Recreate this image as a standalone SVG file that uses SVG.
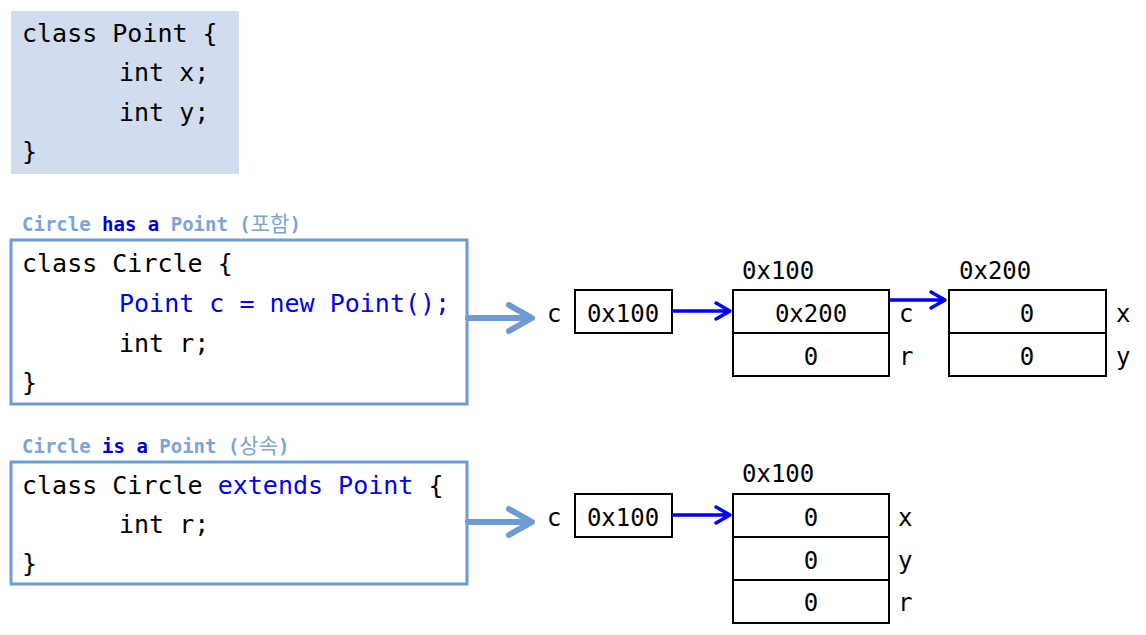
<svg xmlns="http://www.w3.org/2000/svg" width="1146" height="635" viewBox="0 0 1146 635">
  <style>
    .code { font-family: "DejaVu Sans Mono", "Liberation Mono", monospace; font-size: 25px; fill: #000; }
    .kw { fill: #0000EE; }
    .mem { font-family: "DejaVu Sans Mono", "Liberation Mono", monospace; font-size: 24px; fill: #000; }
    .mid { text-anchor: middle; }
    .cap { font-family: "DejaVu Sans Mono", "Liberation Mono", "Noto Sans CJK KR", monospace; font-size: 19px; font-weight: bold; fill: #7BA4D8; }
    .cap .dark { fill: #0000CC; }
    .cap .ko { font-family: "Noto Sans CJK KR", sans-serif; font-weight: normal; font-size: 21px; }
    .codebox { fill: #fff; stroke: #6E9BD3; stroke-width: 3; }
    .cell { fill: #fff; stroke: #000; stroke-width: 2; }
    .fat { fill: none; stroke: #6E9BD3; stroke-width: 6; stroke-linecap: round; stroke-linejoin: round; }
    .ptr { fill: none; stroke: #0000FF; stroke-width: 3.5; stroke-linecap: round; stroke-linejoin: round; }
  </style>

  <!-- class Point -->
  <g id="point-class">
    <rect x="11" y="11" width="228" height="163" fill="#D1DDEE"/>
    <text class="code" x="22" y="42">class Point {</text>
    <text class="code" x="119" y="81">int x;</text>
    <text class="code" x="119" y="121">int y;</text>
    <text class="code" x="22" y="160">}</text>
  </g>

  <!-- composition: Circle has a Point -->
  <g id="circle-has">
    <text class="cap" x="22" y="231">Circle <tspan class="dark">has a</tspan> Point (<tspan class="ko">포함</tspan>)</text>
    <rect class="codebox" x="11" y="240" width="456" height="164"/>
    <text class="code" x="22" y="272">class Circle {</text>
    <text class="code kw" x="119" y="312">Point c = new Point();</text>
    <text class="code" x="119" y="352">int r;</text>
    <text class="code" x="22" y="391">}</text>
  </g>

  <!-- inheritance: Circle is a Point -->
  <g id="circle-is">
    <text class="cap" x="22" y="453">Circle <tspan class="dark">is a</tspan> Point (<tspan class="ko">상속</tspan>)</text>
    <rect class="codebox" x="11" y="462" width="456" height="122"/>
    <text class="code" x="22" y="494">class Circle <tspan class="kw">extends Point</tspan> {</text>
    <text class="code" x="119" y="533">int r;</text>
    <text class="code" x="22" y="572">}</text>
  </g>

  <!-- memory: reference c (has-a) -->
  <g id="ref-c-top">
    <text class="mem" x="547" y="322">c</text>
    <rect class="cell" x="575" y="290" width="97" height="43"/>
    <text class="mem mid" x="623" y="322">0x100</text>
  </g>

  <!-- memory: Circle object at 0x100 -->
  <g id="obj-circle-top">
    <text class="mem" x="742" y="279">0x100</text>
    <rect class="cell" x="733" y="290" width="156" height="43"/>
    <rect class="cell" x="733" y="333" width="156" height="43"/>
    <text class="mem mid" x="811" y="322">0x200</text>
    <text class="mem mid" x="811" y="365">0</text>
    <text class="mem" x="899" y="322">c</text>
    <text class="mem" x="899" y="365">r</text>
  </g>

  <!-- memory: Point object at 0x200 -->
  <g id="obj-point">
    <text class="mem" x="959" y="279">0x200</text>
    <rect class="cell" x="949" y="290" width="157" height="43"/>
    <rect class="cell" x="949" y="333" width="157" height="43"/>
    <text class="mem mid" x="1027" y="322">0</text>
    <text class="mem mid" x="1027" y="365">0</text>
    <text class="mem" x="1116" y="322">x</text>
    <text class="mem" x="1116" y="365">y</text>
  </g>

  <!-- memory: reference c (is-a) -->
  <g id="ref-c-bottom">
    <text class="mem" x="547" y="526">c</text>
    <rect class="cell" x="575" y="494" width="97" height="43"/>
    <text class="mem mid" x="623" y="526">0x100</text>
  </g>

  <!-- memory: Circle object (inherits x, y) -->
  <g id="obj-circle-bottom">
    <text class="mem" x="742" y="482">0x100</text>
    <rect class="cell" x="733" y="494" width="156" height="43"/>
    <rect class="cell" x="733" y="537" width="156" height="43"/>
    <rect class="cell" x="733" y="580" width="156" height="43"/>
    <text class="mem mid" x="811" y="526">0</text>
    <text class="mem mid" x="811" y="569">0</text>
    <text class="mem mid" x="811" y="611">0</text>
    <text class="mem" x="898" y="526">x</text>
    <text class="mem" x="898" y="569">y</text>
    <text class="mem" x="898" y="611">r</text>
  </g>

  <!-- connectors -->
  <g id="connectors">
    <path class="fat" d="M 468 318 H 531 M 509 305 L 532 318 L 509 331"/>
    <path class="fat" d="M 468 522 H 531 M 509 509 L 532 522 L 509 535"/>
    <path class="ptr" d="M 673 311 H 729 M 716 303 L 730 311 L 716 319"/>
    <path class="ptr" d="M 890 300 H 944 M 931 292 L 945 300 L 931 308"/>
    <path class="ptr" d="M 673 515 H 729 M 716 507 L 730 515 L 716 523"/>
  </g>
</svg>
